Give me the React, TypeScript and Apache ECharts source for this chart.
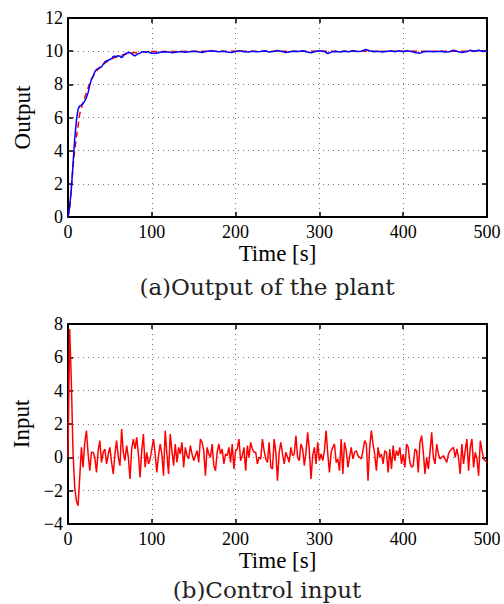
import React, { useEffect, useRef } from "react";
import * as echarts from "echarts";

// Time axis ticks
const timeTicks = [0, 100, 200, 300, 400, 500];

// Plant output, sampled every 2 s from 0 to 100 s
const outputEarly = [
  0, 0.6, 1.7, 3.2, 4.7, 5.8, 6.5, 6.7, 6.75, 6.85,
  7.0, 7.2, 7.5, 7.95, 8.3, 8.5, 8.75, 8.9, 8.95, 9.0,
  9.05, 9.2, 9.35, 9.42, 9.45, 9.5, 9.55, 9.68, 9.7, 9.68,
  9.72, 9.7, 9.6, 9.72, 9.82, 9.88, 9.92, 9.9, 9.85, 9.75,
  9.72, 9.8, 9.85, 9.88, 9.95, 9.97, 9.93, 9.95, 9.98, 9.9,
  9.87,
];
// Plant output, sampled every 5 s from 105 to 500 s
const outputLate = [
  9.88, 9.93, 9.97, 9.95, 9.9, 9.95, 9.98, 9.93, 9.97, 10.0,
  9.96, 9.92, 9.98, 10.03, 9.99, 9.96, 10.0, 9.95, 9.92, 9.98,
  10.02, 9.97, 9.95, 10.0, 9.96, 9.98, 10.02, 9.95, 9.98, 10.04,
  9.98, 9.92, 9.96, 10.0, 9.98, 10.02, 9.95, 9.9, 9.98, 10.03,
  10.0, 9.86, 9.96, 9.98, 9.95, 10.0, 9.97, 10.02, 9.98, 10.0,
  10.1, 10.02, 9.96, 10.0, 9.95, 9.98, 10.03, 9.97, 10.02, 9.96,
  10.03, 9.98, 9.9, 9.88, 9.97, 10.0, 9.96, 9.98, 10.0, 9.95,
  9.97, 10.05, 9.98, 9.92, 9.96, 10.05, 10.0, 10.06, 9.98, 10.03,
];

// Reference trajectory (red dashed), every 2 s from 0 to 100 s
const referenceEarly = [
  0, 0.5, 1.8, 3.0, 4.0, 4.8, 5.5, 6.2, 6.6, 6.9,
  7.2, 7.5, 7.8, 8.05, 8.3, 8.5, 8.65, 8.8, 8.92, 9.03,
  9.12, 9.2, 9.28, 9.35, 9.42, 9.48, 9.53, 9.58, 9.62, 9.66,
  9.7, 9.73, 9.76, 9.79, 9.81, 9.83, 9.85, 9.87, 9.88, 9.9,
  9.91, 9.92, 9.93, 9.94, 9.95, 9.96, 9.96, 9.97, 9.97, 9.98,
  9.98,
];
const referenceLateTimes = [150, 200, 300, 400, 500];
const referenceLate = [9.99, 10, 10, 10, 10];

// Control input, sampled every 2 s from 0 to 500 s
const controlInput = [
  0, 7.7, 4.5, 0.3, -1.8, -2.6, -2.9, -1.2, 0.6, -0.6,
  0.9, 1.6, 0.2, -0.8, 0.3, 0.3, 0.0, -0.9, 0.4, 1.0,
  -0.3, 0.3, 0.5, -0.4, 0.2, 0.6, -0.3, -1.0, 0.2, 1.0,
  0.0, -0.5, 1.7, 0.3, -0.2, 0.7, 0.0, -1.3, 0.5, 1.1,
  0.5, 1.2, 0.2, -1.2, 0.4, 1.4, -0.6, 0.3, -0.4, -0.1,
  0.5, 1.1, 0.2, -0.9, 0.1, 0.8, 0.2, -1.1, 1.6, 0.2,
  -1.0, 1.4, 0.4, -0.5, 0.8, -0.3, 0.6, 0.2, 0.9, -0.6,
  0.6, 0.1, -0.1, 0.7, 0.2, -0.2, 0.1, 0.4, -0.3, 1.1,
  0.9, 0.4, -1.1, 0.6, 0.2, 0.0, 0.8, -0.5, -0.8, 0.3,
  0.8, 0.2, 0.5, -0.4, 0.2, 0.1, 0.6, -0.3, 0.8, -0.7,
  0.4, 0.5, 1.1, -0.2, 0.1, 0.6, -0.8, 0.7, 0.0, 0.9,
  0.5, 0.3, 0.3, -0.4, 0.0, -0.1, 1.1, 0.4, -0.1, -0.3,
  0.9, -0.6, -0.7, 1.1, 0.3, -1.4, 0.3, 0.9, 0.2, -0.4,
  0.3, 0.0, -0.3, 0.6, 0.1, 0.2, 1.3, 0.0, -0.2, 0.8,
  0.5, -0.5, 0.3, 1.5, 0.4, -1.3, 0.1, 0.6, -0.4, 0.9,
  -0.2, 0.2, -0.2, 0.4, 1.6, 0.2, -0.9, 0.3, 0.6, 0.8,
  -0.3, -0.1, -0.8, 1.1, -1.0, 0.9, 0.4, -0.6, 0.0, 0.6,
  -0.1, 0.3, 0.4, 0.1, 0.0, -0.1, 0.4, 1.0, 0.8, -1.4,
  0.6, 1.6, 0.8, 0.2, -0.8, 0.6, 0.0, 0.2, -0.4, 0.4,
  0.3, -0.9, 0.5, -0.7, 0.7, -0.2, 0.4, 0.1, 0.6, -0.4,
  0.2, -0.6, 0.8, 0.6, -0.3, -0.6, -0.5, 0.5, 0.4, -0.9,
  0.9, 1.3, 0.3, -1.0, 0.0, -0.7, 0.3, 1.5, 0.0, -0.4,
  0.8, 0.2, -0.1, 0.0, 0.1, -0.1, -0.3, 0.2, 0.4, 0.5,
  0.6, 0.0, 0.5, 0.0, -1.0, 0.8, -0.4, 0.4, 1.1, -0.8,
  0.6, 1.1, -0.6, 0.3, -0.1, -1.1, 1.0, 0.4, -0.1, -0.2,
  -0.3,
];

const SERIF = "Liberation Serif";
const CAPTION_FONT = "DejaVu Serif";

const minusFmt = (v: number) => String(v).replace("-", "\u2212");

function mainXAxis(gridIndex: number) {
  return {
    type: "value",
    gridIndex,
    min: timeTicks[0],
    max: timeTicks[timeTicks.length - 1],
    interval: 100,
    name: "Time [s]",
    nameLocation: "middle",
    nameGap: 24,
    nameTextStyle: { fontFamily: SERIF, fontSize: 23, color: "#000" },
    axisLine: { show: true, onZero: false, lineStyle: { color: "#000", width: 2 } },
    axisTick: { show: true, inside: true, length: 5, lineStyle: { color: "#000", width: 1.5 } },
    axisLabel: { fontFamily: SERIF, fontSize: 18, color: "#000", margin: 6, formatter: minusFmt },
    splitLine: { show: true, lineStyle: { color: "#777", type: [1, 4], width: 1 } },
  };
}
function topXAxis(gridIndex: number) {
  return {
    type: "value",
    gridIndex,
    position: "top",
    min: timeTicks[0],
    max: timeTicks[timeTicks.length - 1],
    interval: 100,
    axisLine: { show: true, onZero: false, lineStyle: { color: "#000", width: 2 } },
    axisTick: { show: true, inside: true, length: 5, lineStyle: { color: "#000", width: 1.5 } },
    axisLabel: { show: false },
    splitLine: { show: false },
  };
}
function mainYAxis(gridIndex: number, min: number, max: number, name: string) {
  return {
    type: "value",
    gridIndex,
    min,
    max,
    interval: 2,
    name,
    nameLocation: "middle",
    nameGap: 31,
    nameTextStyle: { fontFamily: SERIF, fontSize: 23, color: "#000" },
    axisLine: { show: true, onZero: false, lineStyle: { color: "#000", width: 2 } },
    axisTick: { show: true, inside: true, length: 5, lineStyle: { color: "#000", width: 1.5 } },
    axisLabel: { fontFamily: SERIF, fontSize: 18, color: "#000", margin: 5, formatter: minusFmt },
    splitLine: { show: true, lineStyle: { color: "#777", type: [1, 4], width: 1 } },
  };
}
function rightYAxis(gridIndex: number, min: number, max: number) {
  return {
    type: "value",
    gridIndex,
    position: "right",
    min,
    max,
    interval: 2,
    axisLine: { show: true, onZero: false, lineStyle: { color: "#000", width: 2 } },
    axisTick: { show: true, inside: true, length: 5, lineStyle: { color: "#000", width: 1.5 } },
    axisLabel: { show: false },
    splitLine: { show: false },
  };
}

export default function App() {
  const ref = useRef<HTMLDivElement>(null);
  useEffect(() => {
    if (!ref.current) return;
    const chart = echarts.init(ref.current, undefined, { renderer: "svg" });

    const outputData = [
      ...outputEarly.map((v, i) => [i * 2, v]),
      ...outputLate.map((v, i) => [105 + i * 5, v]),
    ];
    const referenceData = [
      ...referenceEarly.map((v, i) => [i * 2, v]),
      ...referenceLate.map((v, i) => [referenceLateTimes[i], v]),
    ];
    const inputData = controlInput.map((v, i) => [i * 2, v]);

    chart.setOption({
      animation: false,
      backgroundColor: "#fff",
      grid: [
        { left: 68, top: 18, width: 419, height: 199 },
        { left: 68, top: 324, width: 419, height: 200 },
      ],
      xAxis: [mainXAxis(0), topXAxis(0), mainXAxis(1), topXAxis(1)],
      yAxis: [
        mainYAxis(0, 0, 12, "Output"),
        rightYAxis(0, 0, 12),
        mainYAxis(1, -4, 8, "Input"),
        rightYAxis(1, -4, 8),
      ],
      series: [
        {
          type: "line",
          xAxisIndex: 0,
          yAxisIndex: 0,
          data: referenceData,
          showSymbol: false,
          lineStyle: { color: "#ff0000", width: 1.5, type: [6, 4] },
          z: 2,
        },
        {
          type: "line",
          xAxisIndex: 0,
          yAxisIndex: 0,
          data: outputData,
          showSymbol: false,
          lineStyle: { color: "#0000ff", width: 1.5 },
          z: 3,
        },
        {
          type: "line",
          xAxisIndex: 2,
          yAxisIndex: 2,
          data: inputData,
          showSymbol: false,
          lineStyle: { color: "#ff0000", width: 1.5 },
          z: 3,
        },
      ],
      graphic: [
        {
          type: "text",
          x: 267,
          y: 287,
          style: {
            text: "(a)Output of the plant",
            fontFamily: CAPTION_FONT,
            fontSize: 23,
            fill: "#222",
            textAlign: "center",
            textVerticalAlign: "middle",
          },
        },
        {
          type: "text",
          x: 267,
          y: 590,
          style: {
            text: "(b)Control input",
            fontFamily: CAPTION_FONT,
            fontSize: 23,
            fill: "#222",
            textAlign: "center",
            textVerticalAlign: "middle",
          },
        },
      ],
    });
    return () => chart.dispose();
  }, []);
  return (
    <div
      ref={ref}
      style={{ position: "absolute", left: 0, top: 0, width: 504, height: 604 }}
    />
  );
}
